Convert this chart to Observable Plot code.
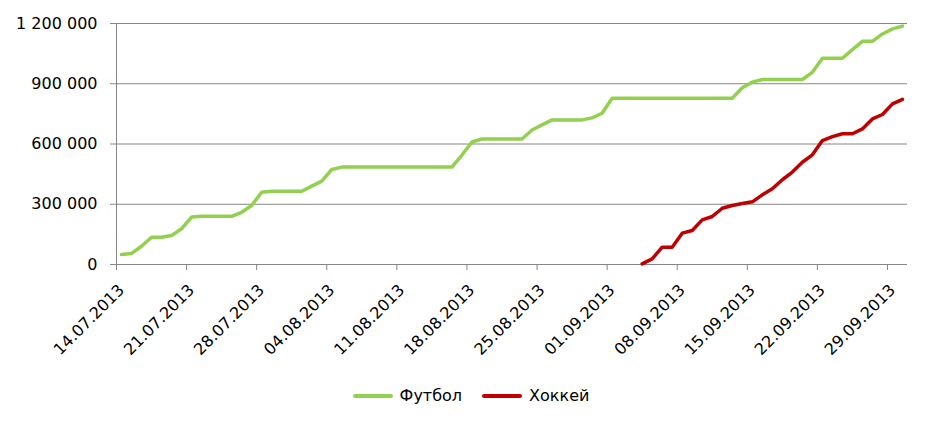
<!DOCTYPE html>
<html>
<head>
<meta charset="utf-8">
<script src="https://cdn.jsdelivr.net/npm/d3@7"></script>
<script src="https://cdn.jsdelivr.net/npm/@observablehq/plot@0.6"></script>
<style>
  body { margin: 0; background: #fff; font-family: "DejaVu Sans", sans-serif; }
  #wrap { position: relative; width: 942px; height: 427px; }
  #legend { position: absolute; top: 386px; left: 0; width: 942px; display: flex; justify-content: center; gap: 20px; font-size: 16px; color: #000; }
  .item { display: flex; align-items: center; gap: 7px; }
  .sw { width: 40px; height: 4px; border-radius: 2px; }
</style>
</head>
<body>
<div id="wrap">
  <div id="chart"></div>
  <div id="legend"></div>
</div>
<script>
// Series labels and colors
const seriesNames = ["Футбол", "Хоккей"];
const seriesColors = ["#92D050", "#C00000"];

// Daily cumulative values, football from 14.07.2013, hockey from 04.09.2013
const footballStart = "2013-07-14";
const footballValues = [
  50000, 55000, 91000, 136000, 136000, 144000, 178000, 236000, 240000, 240000,
  240000, 240000, 260000, 294000, 360000, 365000, 365000, 365000, 365000, 390000,
  415000, 473000, 485000, 485000, 485000, 485000, 485000, 485000, 485000, 485000,
  485000, 485000, 485000, 485000, 545000, 610000, 625000, 625000, 625000, 625000,
  625000, 670000, 695000, 720000, 720000, 720000, 720000, 730000, 753000, 828000,
  828000, 828000, 828000, 828000, 828000, 828000, 828000, 828000, 828000, 828000,
  828000, 828000, 880000, 908000, 921000, 921000, 921000, 921000, 921000, 957000,
  1027000, 1027000, 1027000, 1070000, 1111000, 1111000, 1148000, 1173000, 1187000
];
const hockeyStart = "2013-09-04";
const hockeyValues = [
  3000, 28000, 86000, 86000, 156000, 169000, 222000, 239000, 280000, 294000,
  304000, 312000, 347000, 377000, 422000, 460000, 509000, 546000, 617000, 637000,
  651000, 651000, 675000, 725000, 747000, 800000, 822000
];

// Axis settings
const xDomain = ["2013-07-14", "2013-10-01"];
const xTickDates = ["2013-07-14","2013-07-21","2013-07-28","2013-08-04","2013-08-11","2013-08-18",
  "2013-08-25","2013-09-01","2013-09-08","2013-09-15","2013-09-22","2013-09-29"];
const yTicks = [0, 300000, 600000, 900000, 1200000];

const parse = d3.utcParse("%Y-%m-%d");
function build(name, start, values) {
  const s = parse(start);
  return values.map((v, i) => ({
    series: name,
    date: d3.utcHour.offset(d3.utcDay.offset(s, i), 12),
    value: v
  }));
}
const data = [
  ...build(seriesNames[0], footballStart, footballValues),
  ...build(seriesNames[1], hockeyStart, hockeyValues)
];

const fmtY = d => d3.format(",")(d).replace(/,/g, "\u00a0");
const fmtX = d3.utcFormat("%d.%m.%Y");
const xt = xTickDates.map(parse);

const chart = Plot.plot({
  width: 942,
  height: 375,
  marginTop: 23,
  marginBottom: 111,
  marginLeft: 116,
  marginRight: 35,
  style: { fontFamily: "'DejaVu Sans', sans-serif", fontSize: "16px", color: "#000", background: "#fff" },
  x: { type: "utc", domain: xDomain.map(parse) },
  y: { domain: [0, 1200000] },
  color: { domain: seriesNames, range: seriesColors },
  marks: [
    Plot.ruleY(yTicks, { stroke: "#868686", strokeWidth: 1, strokeOpacity: 1 }),
    Plot.ruleX([parse(xDomain[0])], { stroke: "#868686", strokeWidth: 1 }),
    Plot.axisY({ ticks: yTicks, tickFormat: fmtY, tickSize: 6, tickPadding: 13, stroke: "#868686", strokeOpacity: 1, label: null, fontSize: 16 }),
    Plot.axisX({ ticks: xt, tickFormat: () => "", tickSize: 6, stroke: "#868686", strokeOpacity: 1, label: null }),
    Plot.axisX({ ticks: xt, tickFormat: fmtX, tickSize: 0, tickPadding: 23, dx: 5, tickRotate: -45, label: null, fontSize: 16 }),
    Plot.line(data, { x: "date", y: "value", z: "series", stroke: "series", strokeWidth: 3.5, strokeLinejoin: "round", curve: "linear" })
  ]
});
document.getElementById("chart").appendChild(chart);

const legend = document.getElementById("legend");
seriesNames.forEach((n, i) => {
  const it = document.createElement("div");
  it.className = "item";
  it.innerHTML = `<span class="sw" style="background:${seriesColors[i]}"></span><span>${n}</span>`;
  legend.appendChild(it);
});
</script>
</body>
</html>
